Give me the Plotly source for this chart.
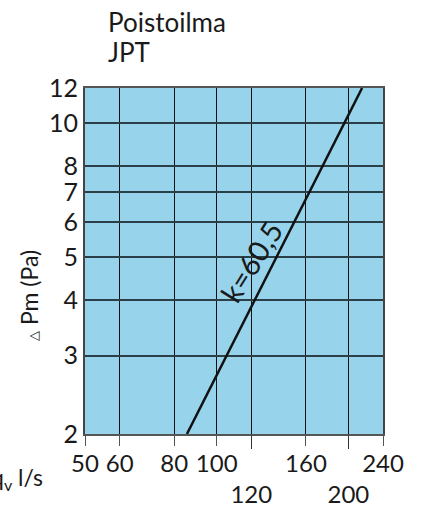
import plotly.graph_objects as go

# Data
flow_ls = [85.5, 215.0]        # q_v (l/s) at line ends
pressure_pa = [2.0, 12.0]      # Δpm (Pa)
k_label = "k=60,5"

x_ticks = [50, 60, 80, 100, 120, 160, 200, 240]
x_ticktext = ["50", "60", "80", "100", "<br>120", "160", "<br>200", "240"]
x_long_ticks = [120, 200]
y_ticks = [2, 3, 4, 5, 6, 7, 8, 10, 12]
y_ticktext = ["2", "3", "4", "5", "6", "7", "8", "10", "12"]

FONT = "Lato"
TXT = "#1a1a1a"
XR = [1.69897, 2.38021]
YR = [0.30103, 1.07918]

fig = go.Figure()
fig.add_trace(go.Scatter(
    x=flow_ls, y=pressure_pa, mode="lines",
    line=dict(color="#111111", width=2.5),
    showlegend=False, hoverinfo="skip",
))
# invisible trace for the overlay axis carrying the long ticks
fig.add_trace(go.Scatter(
    x=flow_ls, y=pressure_pa, xaxis="x2", mode="lines",
    line=dict(width=0), opacity=0, showlegend=False, hoverinfo="skip",
))

fig.update_layout(
    width=427, height=506,
    margin=dict(l=85, r=44, t=88, b=72),
    paper_bgcolor="white",
    plot_bgcolor="#97d4ec",
    font=dict(family=FONT, color=TXT, size=24),
    showlegend=False,
    xaxis=dict(
        type="log", range=XR,
        tickvals=x_ticks, ticktext=x_ticktext, tickangle=0, automargin=False,
        ticklabelstandoff=-3,
        showgrid=True, gridcolor="#111111", gridwidth=1,
        ticks="outside", ticklen=10, tickcolor="#555555", tickwidth=1,
        showline=True, linecolor="#555555", linewidth=2, mirror=True,
        tickfont=dict(size=24, family=FONT, color=TXT),
        zeroline=False, fixedrange=True,
    ),
    xaxis2=dict(
        type="log", range=XR, overlaying="x", side="bottom", anchor="y",
        tickvals=x_long_ticks, showticklabels=False, automargin=False,
        ticks="outside", ticklen=14, tickcolor="#333333", tickwidth=1,
        showgrid=False, showline=False, zeroline=False, fixedrange=True,
    ),
    yaxis=dict(
        type="log", range=YR, automargin=False,
        tickvals=y_ticks, ticktext=y_ticktext,
        showgrid=True, gridcolor="#2a3f48", gridwidth=1.5,
        ticks="", showline=True, linecolor="#444444", linewidth=2, mirror=True,
        tickfont=dict(size=25, family=FONT, color=TXT),
        zeroline=False, fixedrange=True,
    ),
)

# Title text
fig.add_annotation(xref="paper", yref="paper", x=0.07, y=1.19, xanchor="left", yanchor="middle",
                   text="Poistoilma", showarrow=False, font=dict(size=26, family=FONT, color=TXT))
fig.add_annotation(xref="paper", yref="paper", x=0.07, y=1.104, xanchor="left", yanchor="middle",
                   text="JPT", showarrow=False, font=dict(size=26, family=FONT, color=TXT))

# y axis title
fig.add_annotation(xref="paper", yref="paper", x=-0.19, y=0.40, xanchor="center", yanchor="middle",
                   text="<span style='font-size:13px'>△</span> Pm (Pa)", textangle=-90,
                   showarrow=False, font=dict(size=23, family=FONT, color=TXT))

# x axis title (partially clipped at left edge)
fig.add_annotation(xref="paper", yref="paper", x=-0.133, y=-0.13, xanchor="right", yanchor="middle",
                   text="q<sub>v</sub> l/s", showarrow=False, font=dict(size=23, family=FONT, color=TXT))

# k label along the line
fig.add_annotation(x=2.09, y=0.70, xref="x", yref="y", text=k_label, showarrow=False,
                   textangle=-58, font=dict(size=29, family=FONT, color=TXT),
                   xanchor="center", yanchor="middle", xshift=-5, yshift=-5)

fig.write_html("out.html", config={"displayModeBar": False},
               post_script="document.body.style.margin='0';")
